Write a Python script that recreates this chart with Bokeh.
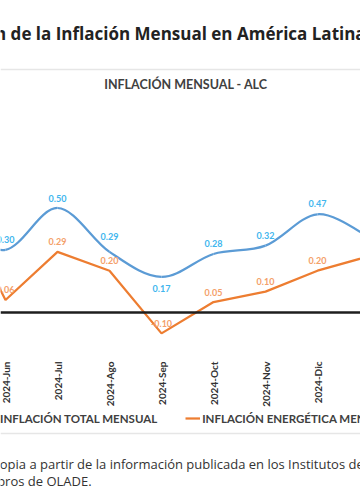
from math import pi
from bokeh.plotting import figure
from bokeh.models import ColumnDataSource, Span, Label, Legend, LegendItem
from bokeh.embed import file_html
from bokeh.resources import INLINE
from bokeh.core.properties import value

# ---------------- data ----------------
months = ["2024-May", "2024-Jun", "2024-Jul", "2024-Ago", "2024-Sep",
          "2024-Oct", "2024-Nov", "2024-Dic", "2025-Ene"]
inflacion_total = [0.42, 0.30, 0.50, 0.29, 0.17, 0.28, 0.32, 0.47, 0.36]
inflacion_energetica = [0.55, 0.06, 0.29, 0.20, -0.10, 0.05, 0.10, 0.20, 0.27]
series_names = ["INFLACIÓN TOTAL MENSUAL", "INFLACIÓN ENERGÉTICA MENSUAL"]
titulo = "Evolución de la Inflación Mensual en América Latina y el Caribe"
subtitulo = "INFLACIÓN MENSUAL - ALC"
fuente_1 = "propia a partir de la información publicada en los Institutos de Estadística"
fuente_2 = "miembros de OLADE."

# ---------------- layout (pixels of the picture) ----------------
W, H = 360, 500
X_FIRST, X_STEP = 5.0, 52.0      # picture x of 2024-Jun, spacing of months
Y_ZERO, Y_UNIT = 312.0, 209.0    # picture y of zero line, pixels per unit


def xd(px):
    return 1 + (px - X_FIRST) / X_STEP


def yd(py):
    return (Y_ZERO - py) / Y_UNIT


BLUE, ORANGE = "#5b9bd5", "#ed7d31"
BLUE_LBL, ORANGE_LBL = "#3fb6ee", "#f4a06a"

p = figure(width=W, height=H, x_range=(xd(0), xd(W)), y_range=(yd(H), yd(0)),
           output_backend="svg", toolbar_location=None,
           x_axis_location=None, y_axis_location=None,
           min_border_left=0, min_border_right=0, min_border_top=0, min_border_bottom=0)
p.grid.visible = False
p.outline_line_color = None
p.background_fill_color = "white"
p.border_fill_color = "white"

idx = list(range(len(months)))

# separators and zero line
p.add_layout(Span(location=yd(69), dimension="width", line_color="#e6e6e6", line_width=1.5))
p.add_layout(Span(location=yd(433), dimension="width", line_color="#e6e6e6", line_width=1.5))
p.add_layout(Span(location=0, dimension="width", line_color="#1e1e1e", line_width=2.5))

# month labels (category axis at the bottom of the chart, rotated)
p.text(x=idx, y=[yd(361)] * len(idx), text=months, angle=pi / 2, text_align="right",
       text_baseline="middle", text_font=value("Lato"), text_font_style="bold",
       text_font_size="10px", text_color="#333333")

# smoothed total inflation (Catmull-Rom -> cubic Bezier)
n = len(months)
x0, y0, x1, y1, cx0, cy0, cx1, cy1 = [], [], [], [], [], [], [], []
for i in range(n - 1):
    ip, i2 = max(i - 1, 0), min(i + 2, n - 1)
    x0.append(idx[i]); y0.append(inflacion_total[i])
    x1.append(idx[i + 1]); y1.append(inflacion_total[i + 1])
    cx0.append(idx[i] + (idx[i + 1] - idx[ip]) / 6)
    cy0.append(inflacion_total[i] + (inflacion_total[i + 1] - inflacion_total[ip]) / 6)
    cx1.append(idx[i + 1] - (idx[i2] - idx[i]) / 6)
    cy1.append(inflacion_total[i + 1] - (inflacion_total[i2] - inflacion_total[i]) / 6)
blue_r = p.bezier(x0=x0, y0=y0, x1=x1, y1=y1, cx0=cx0, cy0=cy0, cx1=cx1, cy1=cy1,
                  line_color=BLUE, line_width=2.25)

orange_r = p.line(idx, inflacion_energetica, line_color=ORANGE, line_width=2.25)

# data labels
blue_dy = [-10, -10, -10, -15, 12, -10, -10, -11, -10]
src_b = ColumnDataSource(dict(x=idx, y=inflacion_total,
                              t=[f"{v:.2f}" for v in inflacion_total], dy=blue_dy))
src_o = ColumnDataSource(dict(x=idx, y=inflacion_energetica,
                              t=[f"{v:.2f}" for v in inflacion_energetica], dy=[-10] * n))
for src, col in ((src_b, BLUE_LBL), (src_o, ORANGE_LBL)):
    p.text(x="x", y="y", text="t", y_offset="dy", source=src, text_align="center",
           text_baseline="middle", text_font=value("Lato"), text_font_style="bold",
           text_font_size="9px", text_color=col)

# titles
p.add_layout(Label(x=xd(-76), y=yd(33), text=titulo, text_align="left", text_baseline="middle",
                   text_font="Open Sans", text_font_style="bold", text_font_size="17px",
                   text_color="#222222"))
p.add_layout(Label(x=xd(185.5), y=yd(84), text=subtitulo, text_align="center",
                   text_baseline="middle", text_font="Lato", text_font_style="bold",
                   text_font_size="12.5px", text_color="#404040"))

# source note
for txt, px, py in ((fuente_1, -14, 463), (fuente_2, -38, 480)):
    p.add_layout(Label(x=xd(px), y=yd(py), text=txt, text_align="left", text_baseline="middle",
                       text_font="Open Sans", text_font_size="13px", text_color="#333333"))

legend = Legend(items=[LegendItem(label=series_names[0], renderers=[blue_r]),
                       LegendItem(label=series_names[1], renderers=[orange_r])],
                location=(-17, H - 428), orientation="horizontal", padding=0, spacing=28,
                glyph_width=15, label_standoff=2, border_line_color=None,
                background_fill_alpha=0, label_text_font="Lato",
                label_text_font_style="bold", label_text_font_size="11.5px",
                label_text_color="#404040")
p.add_layout(legend)

open("out.html", "w").write(file_html(p, INLINE))
